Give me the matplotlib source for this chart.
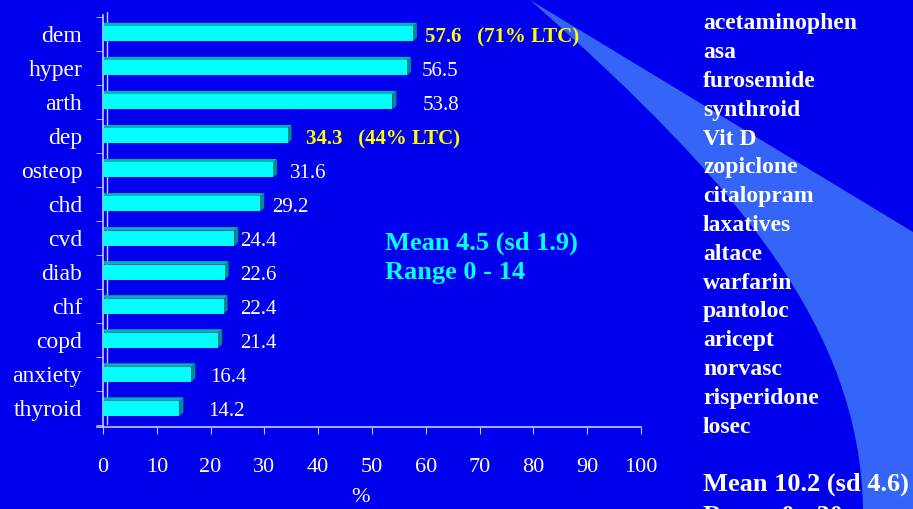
import numpy as np
import matplotlib
matplotlib.use("Agg")
import matplotlib.pyplot as plt
from matplotlib.patches import Polygon, PathPatch
from matplotlib.path import Path

# ------------------------------------------------------------
# DATA
# ------------------------------------------------------------
conditions = ["dem", "hyper", "arth", "dep", "osteop", "chd",
              "cvd", "diab", "chf", "copd", "anxiety", "thyroid"]
prevalence = [57.6, 56.5, 53.8, 34.3, 31.6, 29.2,
              24.4, 22.6, 22.4, 21.4, 16.4, 14.2]
extra_notes = {"dem": "(71% LTC)", "dep": "(44% LTC)"}
x_ticks = [0, 10, 20, 30, 40, 50, 60, 70, 80, 90, 100]

medications = ["acetaminophen", "asa", "furosemide", "synthroid", "Vit D",
               "zopiclone", "citalopram", "laxatives", "altace", "warfarin",
               "pantoloc", "aricept", "norvasc", "risperidone", "losec"]

cond_summary = ["Mean 4.5 (sd 1.9)", "Range 0 - 14"]
med_summary = ["Mean 10.2 (sd 4.6)", "Range 0 - 30"]

# label x positions (data units), as placed on the slide
label_x = [59.9, 59.3, 59.5, 37.7, 34.8, 31.4,
           25.5, 25.5, 25.5, 25.5, 19.9, 19.5]

# ------------------------------------------------------------
# STYLE
# ------------------------------------------------------------
BG = "#0000EE"
SWOOSH = "#3565F8"
CYAN = "#00FFFF"
TOP_CYAN = "#00B4B4"
SIDE_CYAN = "#008C8C"
AXIS = "#C8C8FF"
W, H = 913, 509

plt.rcParams["font.family"] = ["Liberation Serif", "DejaVu Serif"]

fig = plt.figure(figsize=(W / 100, H / 100), dpi=100, facecolor=BG)

# background swoosh (figure pixel coords, y from top), curved left edge
def fpt(x, y):
    return (x / W, 1 - y / H)

verts = [fpt(530, 0), fpt(740, 185), fpt(860, 330), fpt(863, 509),
         fpt(913, 509), fpt(913, 232), fpt(530, 0)]
codes = [Path.MOVETO, Path.CURVE4, Path.CURVE4, Path.CURVE4,
         Path.LINETO, Path.LINETO, Path.CLOSEPOLY]
fig.patches.append(PathPatch(Path(verts, codes), transform=fig.transFigure,
                             facecolor=SWOOSH, edgecolor="none", zorder=0))

ax = fig.add_axes([103 / W, 1 - 427 / H, (641 - 103) / W, (427 - 15) / H])
ax.set_facecolor("none")
ax.set_zorder(2)

pos = np.arange(len(conditions))[::-1]
bh = 0.44
dx, dy = 0.75, 0.1

# 3D look: top and side faces, then the front face
for p, v in zip(pos, prevalence):
    top = p + bh / 2
    ax.add_patch(Polygon([(0, top), (v, top), (v + dx, top + dy), (0, top + dy)],
                         closed=True, facecolor=TOP_CYAN, edgecolor="none", zorder=2))
    ax.add_patch(Polygon([(v, top - bh), (v + dx, top - bh + dy), (v + dx, top + dy), (v, top)],
                         closed=True, facecolor=SIDE_CYAN, edgecolor="none", zorder=2))
ax.barh(pos, prevalence, height=bh, color=CYAN, zorder=3)

for p, v, lx, name in zip(pos, prevalence, label_x, conditions):
    if name in extra_notes:
        ax.text(lx, p - 0.1, f"{v}   {extra_notes[name]}", color="yellow",
                fontsize=15, fontweight="bold", va="center", ha="left")
    else:
        ax.text(lx, p - 0.1, f"{v}", color="white", fontsize=15,
                va="center", ha="left")

ax.set_xlim(0, 100)
ax.set_ylim(-0.55, 11.55)

ax.set_xticks(x_ticks)
ax.set_xticklabels([str(t) for t in x_ticks])
ax.set_yticks(pos)
ax.set_yticklabels(conditions)
ax.set_yticks(np.arange(-0.5, 12, 1), minor=True)

ax.tick_params(axis="y", which="major", length=0, pad=15, labelsize=17, labelcolor="white")
ax.tick_params(axis="y", which="minor", length=5, color=AXIS, direction="out")
ax.tick_params(axis="x", length=5, color=AXIS, pad=17, labelsize=16, labelcolor="white")

for side in ["top", "right"]:
    ax.spines[side].set_visible(False)
for side in ["left", "bottom"]:
    ax.spines[side].set_color(AXIS)
    ax.spines[side].set_linewidth(1.2)
ax.spines["bottom"].set_bounds(-1.2, 100)
ax.set_xlim(0, 100)

# back wall line of the 3D chart
ax.plot([dx, dx], [-0.55 + dy, 11.55 + dy], color=AXIS, lw=1.0, clip_on=False, zorder=1)

fig.text(360 / W, 1 - 497 / H, "%", color="white", fontsize=16, ha="center", va="center")

# summary for conditions
for i, s in enumerate(cond_summary):
    fig.text(385 / W, 1 - (243 + 30 * i) / H, s, color=CYAN, fontsize=19,
             fontweight="bold", ha="left", va="center", zorder=3)

# medication list
for i, m in enumerate(medications):
    fig.text(703 / W, 1 - (24 + 28.8 * i) / H, m, color="white", fontsize=17,
             fontweight="bold", ha="left", va="center", zorder=3)

for i, s in enumerate(med_summary):
    fig.text(703 / W, 1 - (484 + 32 * i) / H, s, color="white", fontsize=19,
             fontweight="bold", ha="left", va="center", zorder=3)

fig.savefig("out.png", dpi=100, facecolor=BG)
